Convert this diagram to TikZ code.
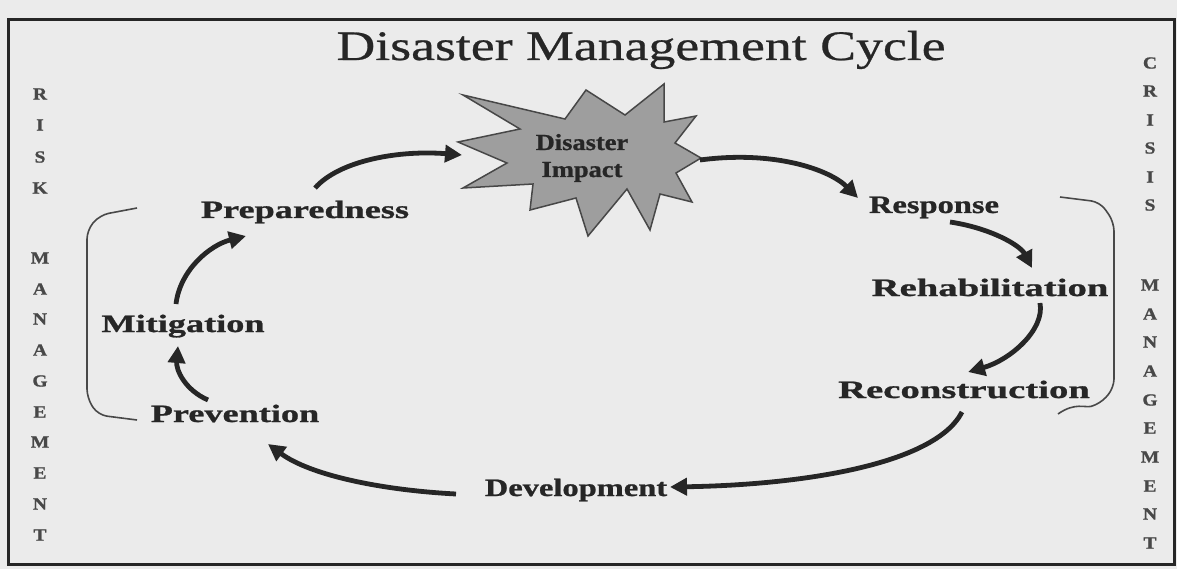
\documentclass[tikz,border=0pt]{standalone}
\usepackage{fontspec}
\setmainfont{Liberation Serif}
\newfontfamily\titlefont[FakeStretch=1.28,FakeBold=0.6]{Liberation Serif}
\newfontfamily\labfont[FakeStretch=1.45,FakeBold=1]{Liberation Serif}
\newfontfamily\labfontnarrow[FakeStretch=1.3,FakeBold=1]{Liberation Serif}
\newfontfamily\labfontwide[FakeStretch=1.55,FakeBold=1]{Liberation Serif}
\newfontfamily\starfont[FakeStretch=1.15,FakeBold=1]{Liberation Serif}
\newfontfamily\sidefont[FakeStretch=1.15,FakeBold=1]{Liberation Serif}
\usetikzlibrary{arrows.meta}
\definecolor{ink}{HTML}{262626}
\definecolor{paper}{HTML}{EBEBEB}
\definecolor{stargray}{HTML}{9E9E9E}
\definecolor{sidegray}{HTML}{484848}
\begin{document}
\begin{tikzpicture}[x=1pt,y=-1pt,
  lab/.style={font={\labfont\bfseries\fontsize{25}{25}\selectfont}, text=ink, inner sep=0pt, anchor=base},
  side/.style={font={\sidefont\bfseries\fontsize{17}{17}\selectfont}, text=sidegray, inner sep=0pt},
  cyc/.style={draw=ink, line width=4.8pt, -{Triangle[length=17pt,width=17pt]}},
  brk/.style={draw=sidegray, line width=1.6pt, rounded corners=9pt}
]
\fill[paper] (0,0) rectangle (1177,569);
\useasboundingbox (0,0) rectangle (1177,569);
\draw[ink, line width=3pt] (8,20) rectangle (1174,564);

% title
\node[font={\titlefont\fontsize{42}{42}\selectfont}, text=ink, inner sep=0pt, anchor=base] (title) at (641,60) {Disaster Management Cycle};

% star
\draw[fill=stargray, draw=ink!85, line width=1.5pt, line join=miter]
  (463,95) -- (565,119) -- (586,90) -- (625,115) -- (664,84) -- (664,122) --
  (696,116) -- (675,143) -- (701,158) -- (676,173) -- (692,202) -- (660,194) --
  (650,230) -- (627,189) -- (588,236) -- (576,198) -- (530,210) -- (533,184) --
  (463,188) -- (507,163) -- (458,142) -- (520,129) -- cycle;
\node[font={\starfont\bfseries\fontsize{23}{23}\selectfont}, text=ink, inner sep=0pt, anchor=base] (impact1) at (582,150) {Disaster};
\node[font={\starfont\bfseries\fontsize{23}{23}\selectfont}, text=ink, inner sep=0pt, anchor=base] (impact2) at (582,177) {Impact};
\coordinate (impact-in) at (462,155);
\coordinate (impact-out) at (700,160);

% labels
\node[lab, font={\labfontnarrow\bfseries\fontsize{25}{25}\selectfont}] (resp) at (934,213) {Response};
\node[lab, font={\labfontwide\bfseries\fontsize{25}{25}\selectfont}] (rehab) at (990,296) {Rehabilitation};
\node[lab, font={\labfontwide\bfseries\fontsize{25}{25}\selectfont}] (recon) at (964,398) {Reconstruction};
\node[lab, font={\labfontnarrow\bfseries\fontsize{25}{25}\selectfont}] (dev) at (576,496) {Development};
\node[lab] (prev) at (235,422) {Prevention};
\node[lab] (mitig) at (183,332) {Mitigation};
\node[lab] (prep) at (305,218) {Preparedness};

% cycle arrows
\coordinate (prep-out) at (315,188);
\coordinate (resp-in) at (858,198);
\coordinate (resp-out) at (950,222);
\coordinate (rehab-in) at (1032,268);
\coordinate (rehab-out) at (1040,303);
\coordinate (recon-in) at (968,372);
\coordinate (recon-out) at (962,412);
\coordinate (dev-in) at (670,487);
\coordinate (dev-out) at (456,494);
\coordinate (prev-in) at (268,444);
\coordinate (prev-out) at (208,400);
\coordinate (mitig-in) at (178,346);
\coordinate (mitig-out) at (176,304);
\coordinate (prep-in) at (246,236);

\draw[cyc] (prep-out) .. controls (340,160) and (400,150) .. (impact-in);
\draw[cyc] (impact-out) .. controls (775,150) and (830,170) .. (resp-in);
\draw[cyc] (resp-out) .. controls (990,228) and (1020,245) .. (rehab-in);
\draw[cyc] (rehab-out) .. controls (1045,330) and (1010,360) .. (recon-in);
\draw[cyc] (recon-out) .. controls (935,465) and (800,485) .. (dev-in);
\draw[cyc] (dev-out) .. controls (380,490) and (310,475) .. (prev-in);
\draw[cyc] (prev-out) .. controls (185,390) and (176,370) .. (mitig-in);
\draw[cyc] (mitig-out) .. controls (180,270) and (210,245) .. (prep-in);

% brackets
\draw[brk] (137,208) -- (100,215) -- (87,230) -- (87,398) -- (98,415) -- (137,420);
\draw[brk] (1060,197) -- (1100,202) -- (1114,222) -- (1114,388) -- (1100,404)
  .. controls (1085,408) and (1075,402) .. (1058,414);

% side letters
\foreach \ch/\yy [count=\i] in {R/94,I/125,S/157,K/188,M/258,A/289,N/319,A/350,G/381,E/412,M/442,E/473,N/504,T/535}
  \node[side] (left\i) at (40,\yy) {\ch};
\foreach \ch/\yy [count=\i] in {C/63,R/91,I/120,S/148,I/177,S/205,M/285,A/314,N/342,A/371,G/400,E/428,M/457,E/486,N/514,T/543}
  \node[side] (right\i) at (1150,\yy) {\ch};
\end{tikzpicture}
\end{document}
